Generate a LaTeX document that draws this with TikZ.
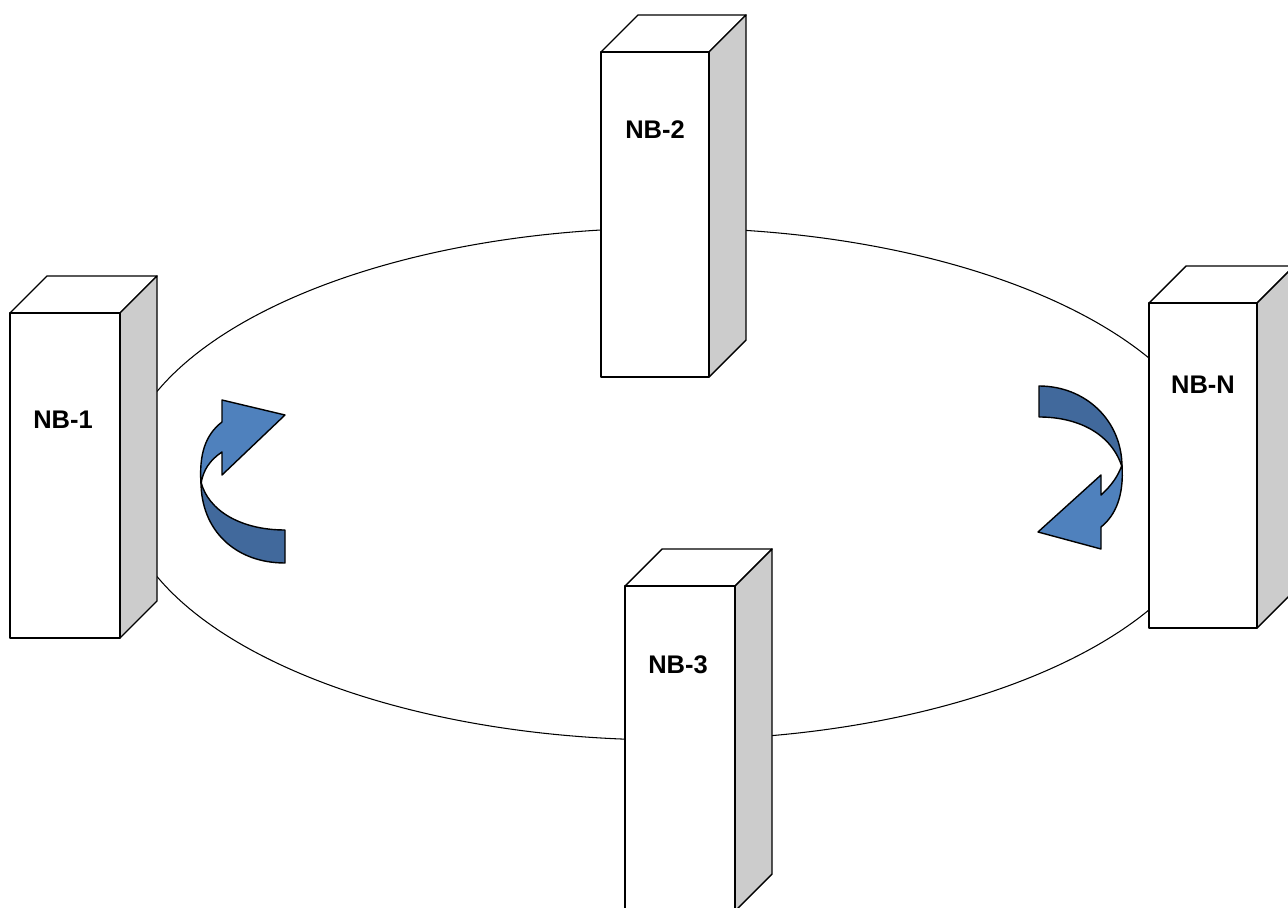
\documentclass[tikz,border=0pt]{standalone}
\usepackage{fontspec}
\setmainfont{Liberation Sans}
\usetikzlibrary{positioning}

\definecolor{arrowlight}{HTML}{4F81BD}
\definecolor{arrowdark}{HTML}{41699C}

\begin{document}
\begin{tikzpicture}[
    x=0.02cm, y=-0.02cm, % one unit = one pixel of the layout, y downwards
    % Style definitions
    ring/.style={draw, line width=0.6pt},
    face/.style={draw, line width=0.8pt, fill=white, line join=round},
    side face/.style={face, fill=black!20},
    top edge/.style={line width=1.6pt},
    box label/.style={font=\fontsize{14.5}{17}\selectfont\bfseries, inner sep=0pt},
    turn light/.style={draw, line width=0.8pt, fill=arrowlight, line join=round},
    turn dark/.style={draw, line width=0.8pt, fill=arrowdark, line join=round}
]

\useasboundingbox (0,0) rectangle (1288,908);
\clip (0,0) rectangle (1288,908);

% ==========================================
% 1. RING (drawn first, boxes sit on it)
% ==========================================
\draw[ring] (670,484) ellipse [x radius=550, y radius=256];

% ==========================================
% 2. BOXES
% ==========================================

% NB-1 (left)
\begin{scope}[shift={(10,313)}]
    \draw[face] (0,0) -- (37,-37) -- (147,-37) -- (110,0) -- cycle;
    \draw[side face] (110,0) -- (147,-37) -- (147,288) -- (110,325) -- cycle;
    \draw[face] (0,0) rectangle (110,325);
    \draw[top edge] (0,0) -- (110,0);
    \node[box label] (nb1) at (53,107) {NB-1};
\end{scope}

% NB-2 (top)
\begin{scope}[shift={(601,52)}]
    \draw[face] (0,0) -- (37,-37) -- (145,-37) -- (108,0) -- cycle;
    \draw[side face] (108,0) -- (145,-37) -- (145,288) -- (108,325) -- cycle;
    \draw[face] (0,0) rectangle (108,325);
    \draw[top edge] (0,0) -- (108,0);
    \node[box label] (nb2) at (54,78) {NB-2};
\end{scope}

% NB-N (right)
\begin{scope}[shift={(1149,303)}]
    \draw[face] (0,0) -- (37,-37) -- (145,-37) -- (108,0) -- cycle;
    \draw[side face] (108,0) -- (145,-37) -- (145,288) -- (108,325) -- cycle;
    \draw[face] (0,0) rectangle (108,325);
    \draw[top edge] (0,0) -- (108,0);
    \node[box label] (nbN) at (54,82) {NB-N};
\end{scope}

% NB-3 (bottom, runs off the page)
\begin{scope}[shift={(625,586)}]
    \draw[face] (0,0) -- (37,-37) -- (147,-37) -- (110,0) -- cycle;
    \draw[side face] (110,0) -- (147,-37) -- (147,288) -- (110,325) -- cycle;
    \draw[face] (0,0) rectangle (110,325);
    \draw[top edge] (0,0) -- (110,0);
    \node[box label] (nb3) at (53,79) {NB-3};
\end{scope}

% ==========================================
% 3. TURN ARROWS
% ==========================================

% Left arrow: dark band below, light band with head above
\draw[turn dark] (285,563) .. controls (235,563) and (201,530) .. (201,482)
    .. controls (208,510) and (240,530) .. (285,530) -- cycle;
\draw[turn light] (222,422) -- (222,400) -- (285,415) -- (222,475) -- (222,452)
    .. controls (210,460) and (203,470) .. (201,484)
    .. controls (199,455) and (205,435) .. (222,422) -- cycle;

% Right arrow: dark band above, light band with head below
\draw[turn dark] (1039,386) .. controls (1085,386) and (1122,420) .. (1122,467)
    .. controls (1112,435) and (1080,417) .. (1039,417) -- cycle;
\draw[turn light] (1101,527) -- (1101,549) -- (1038,532) -- (1101,475) -- (1101,495)
    .. controls (1112,485) and (1118,476) .. (1122,465)
    .. controls (1124,495) and (1116,515) .. (1101,527) -- cycle;

\end{tikzpicture}
\end{document}
